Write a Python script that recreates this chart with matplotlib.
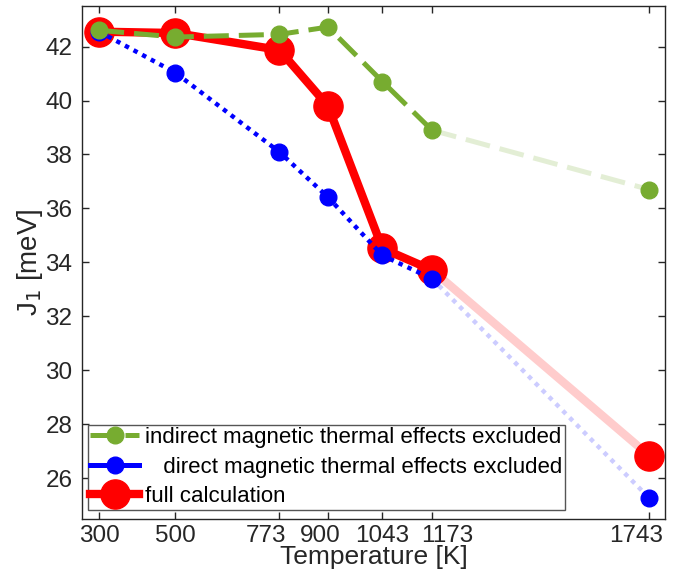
import matplotlib
matplotlib.use("Agg")
import matplotlib.pyplot as plt
import matplotlib.transforms as mtransforms
from matplotlib.lines import Line2D

# --------------------------------------------------------------------------- #
# Data
# --------------------------------------------------------------------------- #
temps = [300, 500, 773, 900, 1043, 1173, 1743]
j_full = [42.55, 42.5, 41.87, 39.8, 34.52, 33.72, 26.84]
j_direct_excl = [42.55, 41.03, 38.09, 36.42, 34.26, 33.4, 25.27]
j_indirect_excl = [42.6, 42.35, 42.45, 42.72, 40.7, 38.9, 36.7]

xtick_vals = [300, 500, 773, 900, 1043, 1173, 1743]
ytick_vals = [26, 28, 30, 32, 34, 36, 38, 40, 42]

# horizontal nudges (px) of the crowded x tick labels
XLABEL_NUDGE = [0, 0, -13, -8, 0, 15, -13]

GREEN = "#77AC30"
BLUE = "#0000FF"
RED = "#FF0000"
TEXT = "#262626"

plt.rcParams["font.family"] = ["Liberation Sans", "DejaVu Sans"]

fig = plt.figure(figsize=(6.86, 5.72), dpi=100)
ax = fig.add_axes([0.1195, 0.0927, 0.8499, 0.8968])

# faded segments (last interval)
ax.plot(temps[-2:], j_full[-2:], color=RED, alpha=0.2, lw=6, zorder=1,
        solid_capstyle="butt")
ax.plot(temps[-2:], j_direct_excl[-2:], color=BLUE, alpha=0.2, lw=3.2,
        linestyle=(0, (1, 1.2)), zorder=1)
ax.plot(temps[-2:], j_indirect_excl[-2:], color=GREEN, alpha=0.2, lw=3.6,
        linestyle=(0, (5, 2)), zorder=1)

# main series
ax.plot(temps[:-1], j_full[:-1], color=RED, lw=6, zorder=2,
        solid_joinstyle="round")
ax.plot(temps, j_full, color=RED, lw=0, marker="o", ms=21, zorder=2)
ax.plot(temps[:-1], j_direct_excl[:-1], color=BLUE, lw=3.2,
        linestyle=(0, (1, 1.2)), zorder=3)
ax.plot(temps, j_direct_excl, color=BLUE, lw=0, marker="o", ms=12, zorder=3)
ax.plot(temps[:-1], j_indirect_excl[:-1], color=GREEN, lw=3.6,
        linestyle=(0, (5, 2)), zorder=4)
ax.plot(temps, j_indirect_excl, color=GREEN, lw=0, marker="o", ms=12, zorder=4)

# legend proxies
handles = [
    Line2D([0], [0], color=GREEN, lw=3.6, linestyle=(0, (5, 2)), marker="o", ms=12),
    Line2D([0], [0], color=BLUE, lw=3.6, marker="o", ms=12),
    Line2D([0], [0], color=RED, lw=6, marker="o", ms=21),
]
labels = [
    "indirect magnetic thermal effects excluded",
    "   direct magnetic thermal effects excluded",
    "full calculation",
]
leg = ax.legend(handles, labels, loc="lower left", bbox_to_anchor=(0.01, 0.018),
                borderaxespad=0, fontsize=16, fancybox=False, framealpha=1,
                edgecolor="#555555", handlelength=2.2, handletextpad=0.25,
                borderpad=0.12, labelspacing=0.38)
leg.get_frame().set_linewidth(1.0)

ax.set_xlim(255, 1784)
ax.set_ylim(24.5, 43.5)
ax.set_xticks(xtick_vals)
ax.set_yticks(ytick_vals)
ax.tick_params(direction="in", length=5, width=1, top=True, right=True,
               labelsize=17.5, colors=TEXT)
ax.tick_params(axis="x", pad=4)
ax.tick_params(axis="y", pad=7)
for s in ax.spines.values():
    s.set_color(TEXT)
    s.set_linewidth(1.0)

for lab, dx in zip(ax.get_xticklabels(), XLABEL_NUDGE):
    if dx:
        shift = mtransforms.ScaledTranslation(dx / 100, 0, fig.dpi_scale_trans)
        lab.set_transform(lab.get_transform() + shift)

ax.set_xlabel("Temperature [K]", fontsize=19, color=TEXT)
ax.xaxis.label.set_verticalalignment("baseline")
ax.xaxis.set_label_coords(0.5, -0.088)
ax.set_ylabel("J$_1$ [meV]", fontsize=20, color=TEXT, labelpad=0)

fig.savefig("out.png", dpi=100)
